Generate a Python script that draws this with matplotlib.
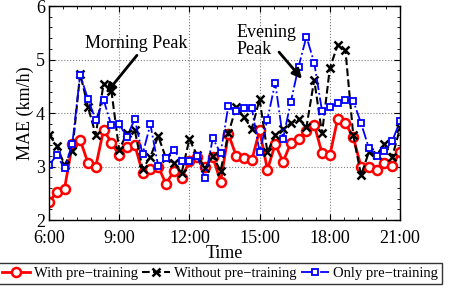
import matplotlib
matplotlib.use('Agg')
import matplotlib.pyplot as plt
from matplotlib.ticker import MultipleLocator
import numpy as np

plt.rcParams['font.family'] = ['Liberation Serif', 'DejaVu Serif']

# one sample every 20 minutes from 6:00 to 21:00
hours = 6 + np.arange(46) * 20 / 60

with_pre = [2.33, 2.53, 2.59, 3.42, 3.50, 3.07, 3.00, 3.69, 3.45, 3.21,
            3.36, 3.41, 2.88, 2.96, 3.00, 2.68, 2.91, 2.78, 3.10, 3.18,
            2.99, 3.18, 2.72, 3.61, 3.20, 3.16, 3.12, 3.68, 2.94, 3.42,
            3.09, 3.44, 3.52, 3.66, 3.78, 3.25, 3.21, 3.89, 3.81, 3.55,
            3.00, 3.00, 2.94, 3.06, 3.01, 3.28]
without_pre = [3.60, 3.39, 3.03, 3.30, 4.74, 4.12, 3.59, 4.55, 4.42, 3.31,
               3.63, 3.68, 2.96, 3.18, 3.57, 3.16, 3.07, 2.88, 3.51, 3.21,
               2.97, 3.20, 2.92, 3.62, 4.12, 3.92, 3.71, 4.26, 3.27, 3.59,
               3.70, 3.81, 3.89, 3.74, 4.62, 3.62, 4.84, 5.27, 5.17, 3.59,
               2.84, 3.27, 3.21, 3.43, 3.18, 3.72]
only_pre = [3.03, 3.21, 2.97, 3.43, 4.72, 4.26, 3.87, 4.25, 3.77, 3.79,
            3.56, 3.89, 3.23, 3.79, 3.01, 3.17, 3.31, 3.11, 3.11, 3.20,
            2.78, 3.53, 3.25, 4.14, 4.04, 4.09, 4.09, 3.27, 3.88, 4.57,
            3.52, 4.21, 4.87, 5.43, 4.94, 4.04, 4.11, 4.18, 4.25, 4.23,
            3.81, 3.35, 3.20, 3.29, 3.48, 3.85]

xticks = [6, 9, 12, 15, 18, 21]
xtick_labels = ['6:00', '9:00', '12:00', '15:00', '18:00', '21:00']

fig = plt.figure(figsize=(4.49, 2.90), dpi=100)
ax = fig.add_axes([0.109, 0.241, 0.782, 0.738])

ax.plot(hours, with_pre, '-o', color='red', linewidth=2.0, markersize=6.5,
        markeredgewidth=1.8, markerfacecolor='white', label='With pre\u2212training')
ax.plot(hours, without_pre, '--x', color='black', linewidth=1.5, markersize=5.5,
        markeredgewidth=1.8, label='Without pre\u2212training')
ax.plot(hours, only_pre, '-.s', color='blue', linewidth=1.3, markersize=5,
        markeredgewidth=1.3, markerfacecolor='white', label='Only pre\u2212training')

ax.set_xlim(6, 21)
ax.set_ylim(2, 6)
ax.set_xticks(xticks)
ax.set_xticklabels(xtick_labels)
ax.set_yticks([2, 3, 4, 5, 6])
ax.xaxis.set_minor_locator(MultipleLocator(0.6))
ax.yaxis.set_minor_locator(MultipleLocator(0.2))
ax.tick_params(which='both', direction='in', top=True, right=True, labelsize=13)
ax.tick_params(axis='x', pad=7)
ax.tick_params(axis='y', pad=3)
ax.tick_params(which='major', length=4)
ax.tick_params(which='minor', length=2)
ax.grid(True, which='major', linestyle=':', color='gray', linewidth=0.8)
for s in ax.spines.values():
    s.set_linewidth(1.0)

ax.set_xlabel('Time', fontsize=13, labelpad=-1)
ax.set_ylabel('MAE (km/h)', fontsize=13, labelpad=1)

# peak labels and arrows
ax.text(7.54, 5.31, 'Morning Peak', fontsize=13, va='center', ha='left')
ax.annotate('', xy=(8.44, 4.37), xytext=(9.76, 5.08),
            arrowprops=dict(arrowstyle='-|>', color='black', lw=2,
                            mutation_scale=14, shrinkA=0, shrinkB=0))
ax.text(14.03, 5.35, 'Evening\nPeak', fontsize=13, va='center', ha='left',
        linespacing=1.0)
ax.annotate('', xy=(16.81, 4.64), xytext=(15.83, 5.14),
            arrowprops=dict(arrowstyle='-|>', color='black', lw=2,
                            mutation_scale=14, shrinkA=0, shrinkB=0))

leg = fig.legend(loc='upper center', bbox_to_anchor=(0.49, 0.092), ncol=3,
                 fontsize=10.5, frameon=True, fancybox=False, edgecolor='black',
                 handlelength=1.9, handletextpad=0.3, columnspacing=0.3,
                 borderpad=0.25, borderaxespad=0)
leg.get_frame().set_linewidth(1.0)

fig.savefig('out.png', dpi=100)
